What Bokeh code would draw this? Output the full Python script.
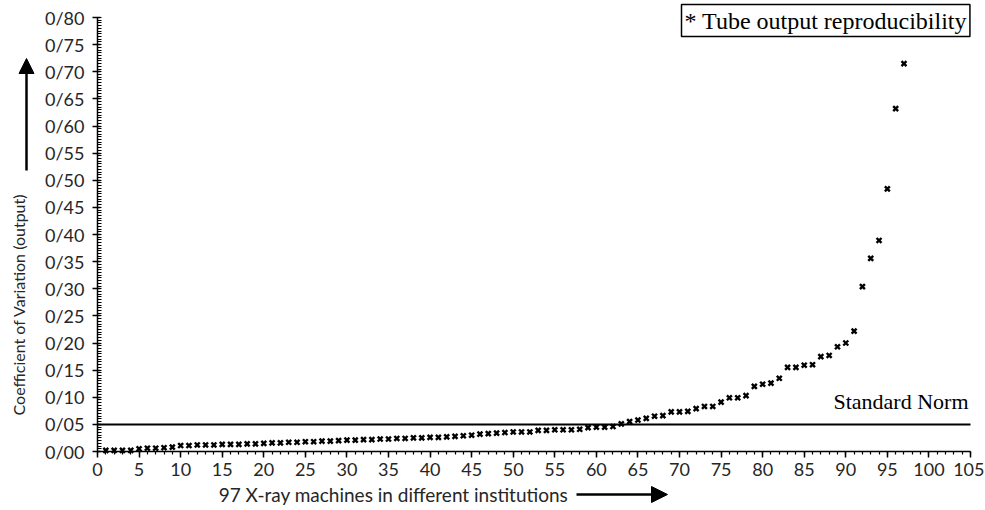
import math
from bokeh.plotting import figure
from bokeh.models import (FixedTicker, CustomJSTickFormatter, Label, Arrow,
                          NormalHead, Range1d)
from bokeh.embed import file_html
from bokeh.resources import INLINE

# ---- data ----
machines = list(range(1, 98))
cv_values = [
    0.002, 0.002, 0.002, 0.002, 0.005, 0.006, 0.006, 0.007, 0.008, 0.011,
    0.011, 0.012, 0.012, 0.012, 0.013, 0.013, 0.013, 0.014, 0.014, 0.015,
    0.016, 0.016, 0.017, 0.017, 0.018, 0.018, 0.019, 0.019, 0.020, 0.021,
    0.021, 0.022, 0.022, 0.023, 0.023, 0.024, 0.024, 0.025, 0.025, 0.026,
    0.026, 0.027, 0.028, 0.029, 0.030, 0.032, 0.033, 0.034, 0.035, 0.036,
    0.036, 0.036, 0.039, 0.039, 0.040, 0.040, 0.040, 0.041, 0.044, 0.045,
    0.045, 0.046, 0.051, 0.055, 0.058, 0.061, 0.065, 0.066, 0.073, 0.073,
    0.074, 0.079, 0.083, 0.083, 0.091, 0.099, 0.099, 0.103, 0.120, 0.124,
    0.126, 0.135, 0.155, 0.155, 0.159, 0.160, 0.175, 0.177, 0.193, 0.200,
    0.222, 0.304, 0.356, 0.389, 0.484, 0.632, 0.715,
]
standard_norm = 0.05

x_min, x_max = 0, 105
y_min, y_max = 0.0, 0.80
x_ticks = [0, 5, 10, 15, 20, 25, 30, 35, 40, 45, 50, 55, 60, 65, 70, 75, 80, 85, 90, 95, 100, 105]
x_minor_ticks = list(range(0, 106))
y_ticks = [0.00, 0.05, 0.10, 0.15, 0.20, 0.25, 0.30, 0.35, 0.40, 0.45, 0.50,
           0.55, 0.60, 0.65, 0.70, 0.75, 0.80]
y_tick_labels = ["0/00", "0/05", "0/10", "0/15", "0/20", "0/25", "0/30", "0/35", "0/40",
                 "0/45", "0/50", "0/55", "0/60", "0/65", "0/70", "0/75", "0/80"]
y_minor_ticks = [i * 0.005 for i in range(0, 161)]

x_title = "97 X-ray machines in different institutions"
y_title = "Coefficient of Variation (output)"
legend_text = "* Tube output reproducibility"
norm_text = "Standard Norm"

SANS = "Lato"
SERIF = "Liberation Serif"
TXT = "#262626"

# ---- layout (pixels on the canvas) ----
W, H = 984, 509
AX_LEFT, AX_RIGHT = 97, 970      # canvas x of x_min and x_max
AX_BOTTOM, AX_TOP = 451, 17      # canvas y of y_min and y_max
sx_per = (AX_RIGHT - AX_LEFT) / (x_max - x_min)
sy_per = (AX_BOTTOM - AX_TOP) / (y_max - y_min)
xr = Range1d(x_min - AX_LEFT / sx_per, x_max + (W - AX_RIGHT) / sx_per)
yr = Range1d(y_min - (H - AX_BOTTOM) / sy_per, y_max + AX_TOP / sy_per)

p = figure(width=W, height=H, x_range=xr, y_range=yr,
           min_border=0, min_border_left=0, min_border_right=0,
           min_border_top=0, min_border_bottom=0,
           output_backend="svg", toolbar_location=None)
p.outline_line_color = None
p.xgrid.visible = False
p.ygrid.visible = False
p.background_fill_color = "white"
p.border_fill_color = "white"

# axes, pinned inside the frame
xa = p.xaxis[0]
xa.fixed_location = y_min
xa.bounds = (x_min, x_max)
xa.ticker = FixedTicker(ticks=x_ticks, minor_ticks=x_minor_ticks)
xa.axis_line_color = "black"
xa.axis_line_width = 1.5
xa.major_tick_line_color = "black"
xa.major_tick_line_width = 1.5
xa.major_tick_in = 0
xa.major_tick_out = 6
xa.minor_tick_line_color = "black"
xa.minor_tick_line_width = 1.2
xa.minor_tick_in = 0
xa.minor_tick_out = 3
xa.major_label_text_font = SANS
xa.major_label_text_font_size = "18px"
xa.major_label_text_color = TXT
xa.major_label_standoff = 5

ya = p.yaxis[0]
ya.fixed_location = x_min
ya.bounds = (y_min, y_max)
ya.ticker = FixedTicker(ticks=y_ticks, minor_ticks=y_minor_ticks)
ya.formatter = CustomJSTickFormatter(
    args=dict(tick_vals=y_ticks, tick_texts=y_tick_labels),
    code="""
const i = tick_vals.findIndex(t => Math.abs(t - tick) < 1e-9);
return i >= 0 ? tick_texts[i] : '';
""")
ya.axis_line_color = "black"
ya.axis_line_width = 1.5
ya.major_tick_line_color = "black"
ya.major_tick_line_width = 1.5
ya.major_tick_in = 3
ya.major_tick_out = 5
ya.minor_tick_line_color = "black"
ya.minor_tick_line_width = 1
ya.minor_tick_in = 4
ya.minor_tick_out = 0
ya.major_label_text_font = SANS
ya.major_label_text_font_size = "18px"
ya.major_label_text_color = TXT
ya.major_label_standoff = 8

# standard norm line (from the y axis to the end of the x axis)
p.line([x_min, x_max], [standard_norm, standard_norm], line_color="black", line_width=2)
p.add_layout(Label(x=x_max, y=standard_norm, text=norm_text, text_align="right",
                   text_baseline="bottom", y_offset=10, x_offset=-2,
                   text_font=SERIF, text_font_size="22px", text_color="black"))

# data points
p.scatter(machines, cv_values, marker="x", size=7, line_width=2.4, line_color="black")

# legend-like box (screen units: x from left, y from bottom of the canvas)
p.add_layout(Label(x=681, y=H - 20, x_units="screen", y_units="screen", text=legend_text,
                   text_align="left", text_baseline="middle",
                   text_font=SERIF, text_font_size="24px", text_color="black",
                   border_line_color="black", border_line_width=1.5,
                   background_fill_color="white", padding=3))

# axis titles with arrows
p.add_layout(Label(x=18, y=H - 304, x_units="screen", y_units="screen", text=y_title,
                   angle=math.pi / 2, text_align="center", text_baseline="middle",
                   text_font=SANS, text_font_size="16px", text_color=TXT))
p.add_layout(Arrow(x_start=26, y_start=H - 170, x_end=26, y_end=H - 58,
                   start_units="screen", end_units="screen",
                   line_color="black", line_width=2.5,
                   end=NormalHead(size=15, fill_color="black", line_color="black")))

p.add_layout(Label(x=393, y=H - 494, x_units="screen", y_units="screen", text=x_title,
                   text_align="center", text_baseline="middle",
                   text_font=SANS, text_font_size="19px", text_color=TXT))
p.add_layout(Arrow(x_start=576, y_start=H - 494, x_end=667, y_end=H - 494,
                   start_units="screen", end_units="screen",
                   line_color="black", line_width=2.5,
                   end=NormalHead(size=16, fill_color="black", line_color="black")))

open("out.html", "w").write(file_html(p, INLINE))
